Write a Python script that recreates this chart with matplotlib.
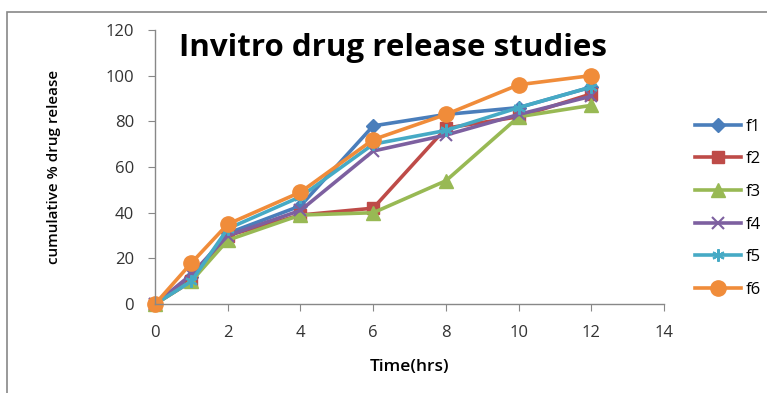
import matplotlib
matplotlib.use('agg')
import matplotlib.pyplot as plt
from matplotlib.patches import Rectangle

time_hrs = [0, 1, 2, 4, 6, 8, 10, 12]
f1 = [0, 12, 31, 43, 78, 83, 86, 95]
f2 = [0, 10, 30, 39, 42, 77, 82, 92]
f3 = [0, 10, 28, 39, 40, 54, 82, 87]
f4 = [0, 13, 30, 41, 67, 74, 83, 91]
f5 = [0, 10, 33, 47, 70, 76, 86, 95]
f6 = [0, 18, 35, 49, 72, 83, 96, 100]
labels = ['f1', 'f2', 'f3', 'f4', 'f5', 'f6']
x_ticks = [0, 2, 4, 6, 8, 10, 12, 14]
y_ticks = [0, 20, 40, 60, 80, 100, 120]

colors = ['#4A7EBB', '#BE4B48', '#98B954', '#7D60A0', '#46AAC5', '#F08C3A']
markers = ['D', 's', '^', 'x', (6, 2, 0), 'o']
sizes = [7, 9, 10, 9, 9, 11]

plt.rcParams['font.family'] = ['Open Sans', 'DejaVu Sans']

fig = plt.figure(figsize=(7.67, 3.93), dpi=100)
ax = fig.add_axes([0.202, 0.226, 0.664, 0.698])

series = [f1, f2, f3, f4, f5, f6]
for y, lab, c, m, s in zip(series, labels, colors, markers, sizes):
    ax.plot(time_hrs, y, color=c, marker=m, markersize=s, linewidth=2.6,
            markeredgewidth=1.5 if m in ('x', (6, 2, 0)) else 1,
            markeredgecolor=c, label=lab, clip_on=False)

ax.set_xlim(0, 14)
ax.set_ylim(0, 120)
ax.set_xticks(x_ticks)
ax.set_yticks(y_ticks)
ax.tick_params(direction='out', length=5, color='#888888', labelsize=12,
               labelcolor='#333333')
ax.tick_params(axis='x', pad=10)
ax.tick_params(axis='y', pad=10)
for side in ('top', 'right'):
    ax.spines[side].set_visible(False)
for side in ('left', 'bottom'):
    ax.spines[side].set_color('#888888')
    ax.spines[side].set_linewidth(1)

ax.text(0.467, 0.935, 'Invitro drug release studies', transform=ax.transAxes,
        ha='center', va='center', fontsize=22.5, fontweight='bold')
ax.set_xlabel('Time(hrs)', fontsize=12.5, fontweight='semibold', labelpad=13)
ax.set_ylabel('cumulative % drug release', fontsize=11, fontweight='semibold',
              labelpad=32)

ax.legend(loc='center left', bbox_to_anchor=(1.03, 0.35), frameon=False,
          fontsize=12, handlelength=2.8, labelspacing=1.0, handletextpad=0.3)

fig.patches.append(Rectangle((0.009, -0.05), 1.2, 1.02, transform=fig.transFigure,
                             fill=False, edgecolor='#888888', linewidth=1.2))

fig.savefig('out.png', dpi=100)
